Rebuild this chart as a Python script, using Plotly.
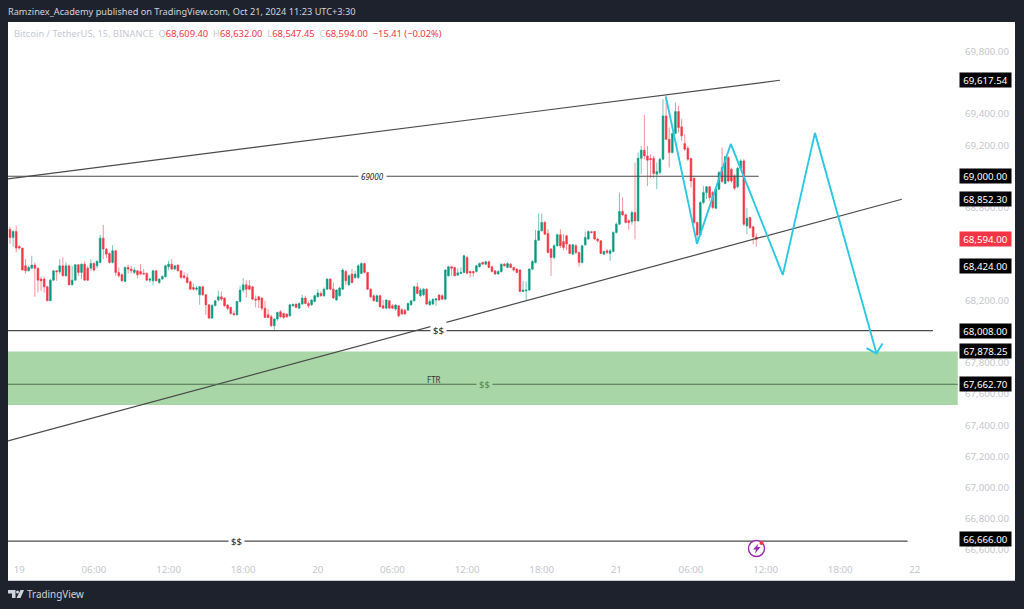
import pandas as pd
import plotly.graph_objects as go

# ---------- candle data (15 minute bars, first bar 2024-10-18 23:15) ----------
first_bar = "2024-10-18 23:15"
opens = [
68660,68607,68645,68549,68538,68424,68392,68409,68429,68409,
68339,68339,68289,68199,68332,68392,68386,68424,68360,68424,
68302,68332,68431,68382,68435,68409,68409,68439,68424,68446,
68602,68532,68504,68446,68521,68382,68367,68324,68414,68403,
68382,68392,68388,68375,68375,68332,68328,68392,68317,68339,
68354,68418,68435,68403,68429,68392,68360,68349,68322,68285,
68274,68238,68289,68238,68174,68088,68169,68204,68225,68217,
68172,68157,68118,68109,68195,68268,68302,68296,68289,68210,
68225,68217,68152,68109,68097,68039,68082,68129,68118,68114,
68103,68167,68178,68152,68178,68217,68182,68174,68195,68225,
68247,68232,68274,68339,68274,68204,68232,68274,68388,68302,
68371,68349,68349,68375,68439,68382,68274,68232,68195,68232,
68167,68152,68199,68167,68146,68167,68142,68139,68139,68174,
68199,68289,68232,68238,68274,68174,68178,68204,68236,68232,
68210,68360,68418,68414,68364,68375,68382,68478,68388,68388,
68388,68418,68446,68435,68450,68418,68392,68371,68386,68435,
68414,68435,68414,68403,68397,68259,68264,68268,68403,68446,
68589,68649,68703,68632,68532,68478,68553,68624,68581,68617,
68559,68499,68553,68510,68446,68559,68596,68643,68645,68596,
68585,68499,68521,68504,68517,68639,68692,68774,68752,68714,
68709,68767,68713,69116,69168,69131,69114,69116,69013,69024,
69110,69388,69238,69153,69275,69416,69318,69210,69180,69114,
68988,68703,68623,68831,68895,68932,68895,68795,68917,69056,
68953,69120,69045,69003,68932,69052,69099,68681,68735,68675,
68609.40]
highs = [
68675,68654,68682,68555,68540,68467,68424,68489,68446,68414,
68354,68354,68296,68339,68397,68397,68467,68478,68446,68431,
68424,68435,68435,68439,68452,68424,68467,68446,68461,68624,
68688,68538,68510,68557,68525,68414,68375,68418,68431,68424,
68414,68397,68435,68403,68382,68349,68397,68397,68343,68364,
68431,68457,68467,68431,68433,68397,68382,68375,68328,68311,
68296,68296,68296,68242,68178,68178,68204,68264,68259,68221,
68178,68161,68135,68199,68296,68345,68332,68332,68296,68232,
68232,68221,68199,68146,68109,68088,68129,68139,68124,68118,
68178,68182,68182,68189,68238,68232,68195,68210,68238,68274,
68259,68285,68343,68343,68317,68274,68289,68409,68397,68371,
68403,68392,68435,68446,68444,68386,68281,68242,68238,68238,
68204,68210,68204,68178,68178,68172,68152,68146,68189,68204,
68296,68317,68281,68281,68281,68210,68217,68217,68242,68242,
68403,68424,68424,68418,68409,68414,68495,68489,68392,68392,
68431,68446,68450,68457,68457,68424,68397,68397,68439,68442,
68446,68442,68418,68409,68403,68328,68324,68409,68461,68654,
68761,68761,68714,68660,68538,68564,68632,68660,68628,68624,
68564,68564,68564,68517,68559,68645,68649,68649,68649,68607,
68589,68521,68532,68532,68645,68703,68896,68864,68761,68724,
68778,69088,69153,69195,69395,69195,69142,69131,69088,69120,
69495,69517,69313,69281,69474,69453,69367,69270,69195,69120,
68992,68709,68842,68938,68938,68938,68906,68928,69035,69185,
69131,69131,69056,69013,69060,69110,69110,68795,68739,68681,
68632.00]
lows = [
68564,68547,68510,68529,68392,68375,68388,68403,68225,68253,
68264,68253,68199,68199,68328,68328,68371,68356,68356,68298,
68298,68328,68360,68339,68328,68328,68392,68388,68409,68439,
68467,68474,68439,68439,68360,68349,68324,68324,68375,68375,
68371,68343,68367,68367,68328,68317,68298,68324,68307,68332,
68349,68397,68397,68397,68388,68339,68339,68311,68270,68264,
68264,68174,68232,68109,68082,68082,68163,68195,68199,68161,
68139,68109,68105,68105,68189,68253,68221,68268,68204,68157,
68152,68135,68088,68088,68032,68007,68071,68088,68082,68088,
68097,68161,68152,68146,68174,68178,68152,68167,68189,68221,
68225,68225,68268,68268,68210,68199,68225,68268,68302,68296,
68311,68339,68339,68371,68375,68268,68217,68195,68189,68157,
68148,68146,68148,68146,68135,68092,68109,68109,68135,68167,
68195,68242,68225,68229,68174,68167,68172,68167,68199,68204,
68204,68354,68360,68356,68360,68371,68375,68371,68349,68354,
68382,68414,68431,68429,68409,68382,68367,68367,68382,68418,
68409,68409,68388,68375,68255,68255,68199,68264,68397,68439,
68585,68645,68624,68504,68360,68467,68547,68538,68525,68525,
68499,68495,68499,68418,68439,68553,68589,68632,68589,68574,
68499,68495,68499,68457,68510,68632,68688,68746,68697,68654,
68688,68595,68709,69013,69110,68938,68988,68988,68917,69013,
69103,69232,69056,69146,69270,69281,69228,69163,69099,68928,
68692,68595,68617,68820,68853,68842,68788,68788,68910,68960,
68949,68960,68960,68910,68923,69045,68681,68628,68660,68563,
68547.45]
closes = [
68607,68645,68538,68538,68397,68392,68414,68429,68409,68332,
68328,68289,68199,68332,68392,68386,68424,68360,68424,68302,
68332,68431,68382,68435,68332,68332,68439,68397,68452,68602,
68532,68499,68446,68521,68382,68360,68328,68414,68403,68392,
68397,68367,68371,68371,68332,68339,68392,68328,68339,68356,
68424,68435,68403,68424,68392,68349,68349,68317,68274,68274,
68281,68289,68238,68174,68088,68169,68199,68225,68210,68167,
68150,68118,68109,68195,68268,68302,68274,68274,68210,68204,
68204,68152,68092,68092,68039,68082,68124,68097,68092,68097,
68174,68176,68157,68182,68217,68182,68167,68204,68232,68249,
68232,68274,68339,68274,68217,68268,68281,68397,68328,68360,
68317,68371,68424,68439,68382,68274,68225,68199,68232,68161,
68152,68204,68152,68152,68172,68103,68114,68114,68182,68199,
68289,68247,68268,68274,68178,68195,68208,68212,68204,68210,
68397,68418,68409,68360,68379,68382,68489,68377,68379,68379,
68424,68439,68435,68450,68414,68388,68371,68388,68435,68424,
68439,68414,68397,68382,68259,68268,68268,68403,68452,68589,
68649,68703,68628,68510,68478,68553,68624,68553,68542,68564,
68504,68559,68510,68446,68553,68607,68645,68639,68596,68585,
68504,68517,68510,68521,68639,68692,68774,68752,68703,68703,
68767,68713,69116,69168,69131,69103,69108,69018,69030,69110,
69388,69238,69153,69275,69416,69313,69260,69174,69110,68970,
68703,68623,68831,68895,68932,68863,68799,68917,69024,68966,
69125,68970,68970,68923,69052,69099,68692,68730,68670,68610,
68594.00]

# ---------- axes ----------
x_start, x_end = "2024-10-18 23:05:30", "2024-10-22 08:03:00"
y_low, y_high = 66404, 69992
price_ticks = [69800,69400,69200,68800,68200,67800,67600,67400,67200,67000,66800,66600]
time_ticks = ["2024-10-19 00:00","2024-10-19 06:00","2024-10-19 12:00","2024-10-19 18:00",
              "2024-10-20 00:00","2024-10-20 06:00","2024-10-20 12:00","2024-10-20 18:00",
              "2024-10-21 00:00","2024-10-21 06:00","2024-10-21 12:00","2024-10-21 18:00",
              "2024-10-22 00:00"]
time_labels = ["19","06:00","12:00","18:00","20","06:00","12:00","18:00","21","06:00","12:00","18:00","22"]

# ---------- drawings ----------
upper_times = [x_start, "2024-10-21 13:09"]
upper_prices = [68983, 69617.54]
lower_times = [x_start, "2024-10-21 22:57"]
lower_prices = [67299, 68852.30]
level_69000_times = [x_start, "2024-10-21 11:27"]
level_68008_times = [x_start, "2024-10-22 01:27"]
level_67662_times = [x_start, "2024-10-22 03:27"]
level_66666_times = [x_start, "2024-10-21 23:25"]
level_66666_price = 66654
zone_top, zone_bottom = 67873, 67529
zone_times = [x_start, "2024-10-22 03:27"]
path_times = ["2024-10-21 03:59","2024-10-21 06:29","2024-10-21 09:12","2024-10-21 13:23",
              "2024-10-21 15:58","2024-10-21 20:55"]
path_prices = [69511, 68565, 69208, 68366, 69279, 67860]
head_times = ["2024-10-21 20:07","2024-10-21 20:55","2024-10-21 21:24"]
head_prices = [67895, 67860, 67924]
price_labels = [69617.54, 69000.00, 68852.30, 68424.00, 68008.00, 67878.25, 67662.70, 66666.00]
last_price = 68594.00

BG = "#1E222D"
GREY = "#C3C6CE"
LINE = "#4A4A4A"
ZONE = "#A9D6A6"
FONT = "Noto Sans, Open Sans, sans-serif"
W, H = 1024, 609
L, R, T, B = 8, 1015, 22, 580

def px(x):
    return (x - L) / (R - L)

def py(y):
    return 1 - (y - T) / (B - T)

bar_times = pd.date_range(first_bar, periods=len(closes), freq="15min")
fig = go.Figure()

fig.add_shape(type="rect", x0=zone_times[0], x1=zone_times[1], y0=zone_bottom, y1=zone_top,
              fillcolor=ZONE, line=dict(width=0), layer="below")

fig.add_trace(go.Candlestick(
    x=bar_times, open=opens, high=highs, low=lows, close=closes,
    increasing=dict(line=dict(color="rgba(8,153,129,0.55)", width=1), fillcolor="#089981"),
    decreasing=dict(line=dict(color="rgba(242,54,69,0.55)", width=1), fillcolor="#F23645"),
    whiskerwidth=0, showlegend=False, hoverinfo="skip"))

def draw(xs, ys, color=LINE, width=1.2):
    fig.add_trace(go.Scatter(x=xs, y=ys, mode="lines", line=dict(color=color, width=width),
                             showlegend=False, hoverinfo="skip"))

draw(upper_times, upper_prices)
draw(lower_times, lower_prices)
draw(level_69000_times, [69000, 69000])
draw(level_68008_times, [68008, 68008])
draw(level_67662_times, [67662.70, 67662.70], color="#4E6F4E")
draw(level_66666_times, [level_66666_price, level_66666_price])
draw(path_times, path_prices, color="#2CC8E2", width=1.9)
draw(head_times, head_prices, color="#2CC8E2", width=1.9)

ann = []

def tag(t, p, text, bg="#FFFFFF", color="#222222", italic=False, size=8):
    ann.append(dict(x=t, y=p, xref="x", yref="y", text=f"<i>{text}</i>" if italic else text,
                    showarrow=False, bgcolor=bg, borderpad=2,
                    font=dict(family=FONT, size=size, color=color)))

tag("2024-10-20 04:25", 69000, "69000", italic=True)
tag("2024-10-20 09:44", 68008, "$$", size=9.5)
tag("2024-10-20 13:26", 67662.70, "$$", bg=ZONE, color="#4C8A4C", size=9.5)
tag("2024-10-19 17:30", level_66666_price, "$$", size=9.5)
ann.append(dict(x="2024-10-20 09:20", y=67695, xref="x", yref="y", text="FTR", showarrow=False,
                font=dict(family=FONT, size=8, color="#333333")))

for v in price_labels + [last_price]:
    ann.append(dict(x=px(959), y=v, xref="paper", yref="y", xanchor="left", yanchor="middle",
                    text=f"{v:,.2f}", showarrow=False, width=49, height=12, align="center",
                    bgcolor="#F23645" if v == last_price else "#000000", borderpad=1,
                    font=dict(family=FONT, size=9.7, color="#FFFFFF")))

ann.append(dict(x=px(6), y=py(12), xref="paper", yref="paper", xanchor="left", yanchor="middle",
                showarrow=False, text="Ramzinex_Academy published on TradingView.com, Oct 21, 2024 11:23 UTC+3:30",
                font=dict(family=FONT, size=9.2, color="#D1D4DC")))
G, RD = "#C5C9D3", "#F23645"
legend = (f'<span style="color:{G}">Bitcoin / TetherUS, 15, BINANCE  O</span><span style="color:{RD}">68,609.40 </span>'
          f'<span style="color:{G}"> H</span><span style="color:{RD}">68,632.00 </span>'
          f'<span style="color:{G}"> L</span><span style="color:{RD}">68,547.45 </span>'
          f'<span style="color:{G}"> C</span><span style="color:{RD}">68,594.00  −15.41 (−0.02%)</span>')
ann.append(dict(x=px(12), y=py(33), xref="paper", yref="paper", xanchor="left", yanchor="middle",
                showarrow=False, text=legend, font=dict(family=FONT, size=9.35, color=G)))
ann.append(dict(x=px(25), y=py(594), xref="paper", yref="paper", xanchor="left", yanchor="middle",
                showarrow=False, text="TradingView", font=dict(family=FONT, size=9.9, color="#D1D4DC")))

def pts(points, close=True):
    s = " ".join(("M" if i == 0 else "L") + f"{px(a):.5f},{py(b):.5f}" for i, (a, b) in enumerate(points))
    return s + (" Z" if close else "")

shapes = [
    # TradingView logo
    dict(type="path", xref="paper", yref="paper", line=dict(width=0), fillcolor="#D1D4DC",
         path=pts([(8, 590), (15.5, 590), (15.5, 598), (12, 598), (12, 593.5), (8, 593.5)])),
    dict(type="circle", xref="paper", yref="paper", line=dict(width=0), fillcolor="#D1D4DC",
         x0=px(16), x1=px(19), y0=py(593.6), y1=py(590.6)),
    dict(type="path", xref="paper", yref="paper", line=dict(width=0), fillcolor="#D1D4DC",
         path=pts([(20.5, 590), (24, 590), (20.5, 598), (16.5, 598)])),
    # lightning badge
    dict(type="circle", xref="paper", yref="paper", line=dict(color="#9C27B0", width=1.4), fillcolor="#FFFFFF",
         x0=px(748.5), x1=px(764.5), y0=py(556.5), y1=py(540.5)),
    dict(type="path", xref="paper", yref="paper", line=dict(width=0), fillcolor="#9C27B0",
         path=pts([(758.5, 543.5), (753, 549.5), (756, 549.5), (755, 553.5), (760.5, 547), (757.3, 547)])),
    dict(type="circle", xref="paper", yref="paper", line=dict(width=0), fillcolor="#F23645",
         x0=px(759.5), x1=px(763.5), y0=py(545), y1=py(541)),
]
for s in shapes:
    fig.add_shape(**s)

fig.update_layout(
    width=W, height=H, margin=dict(l=L, r=W - R, t=T, b=H - B),
    paper_bgcolor=BG, plot_bgcolor="#FFFFFF", showlegend=False, annotations=ann,
    boxgap=0.2,
    xaxis=dict(type="date", range=[x_start, x_end], rangeslider=dict(visible=False),
               tickmode="array", tickvals=time_ticks, ticktext=time_labels,
               ticklabelposition="inside", ticks="inside", ticklen=4, tickcolor="rgba(0,0,0,0)",
               tickfont=dict(family=FONT, size=9.7, color=GREY), showgrid=False, zeroline=False,
               showline=True, linecolor="#C8CBD2", linewidth=1, tickangle=0),
    yaxis=dict(side="right", range=[y_low, y_high], tickmode="array", tickvals=price_ticks,
               tickformat=",.2f", ticklabelposition="inside", ticks="inside", ticklen=5,
               tickcolor="rgba(0,0,0,0)", tickfont=dict(family=FONT, size=9.7, color=GREY),
               showgrid=False, zeroline=False, showline=False),
)

fig.write_html("out.html", config=dict(displayModeBar=False),
               post_script="document.body.style.margin='0';document.body.style.overflow='hidden';")
